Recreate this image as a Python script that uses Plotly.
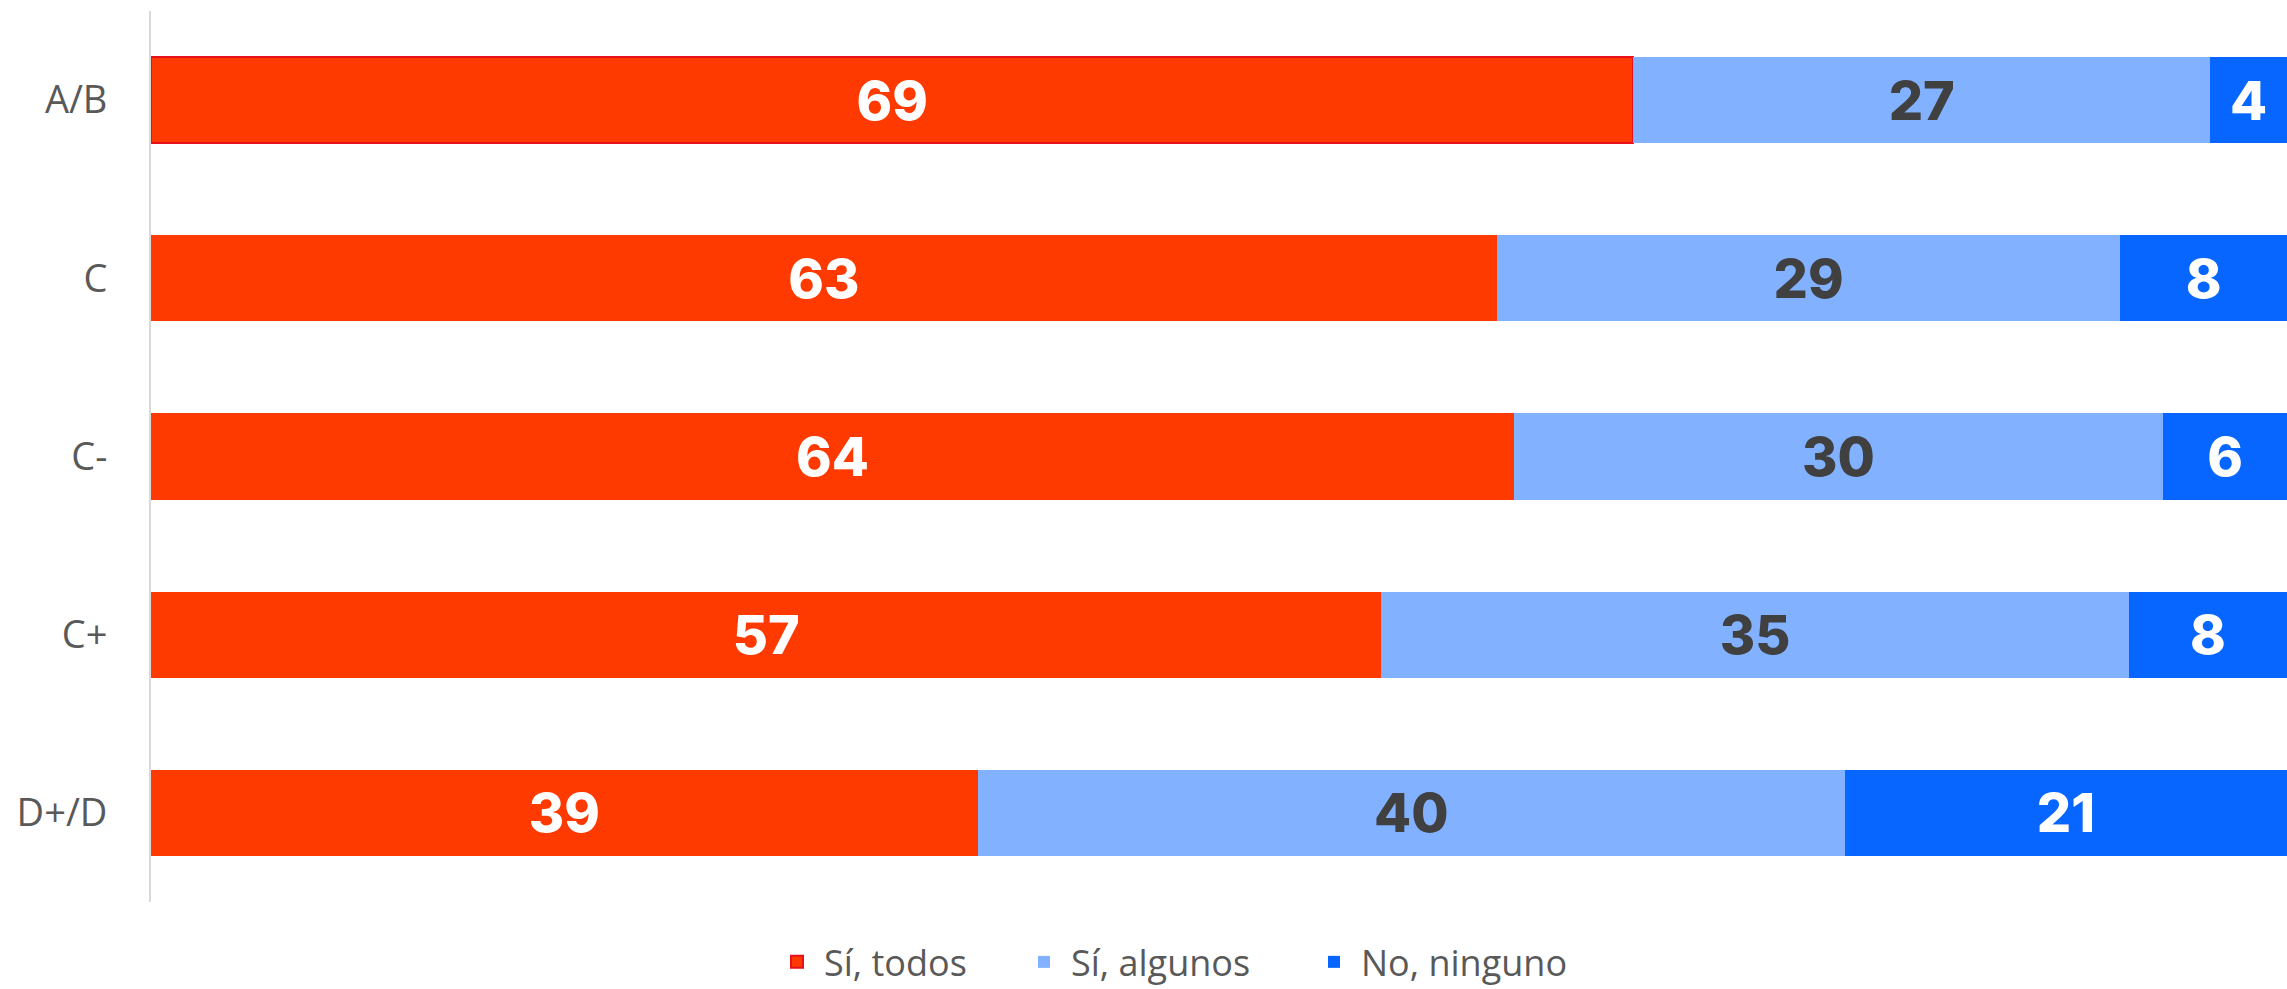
import plotly.graph_objects as go

categories = ["A/B", "C", "C-", "C+", "D+/D"]
series_names = ["Sí, todos", "Sí, algunos", "No, ninguno"]
todos = [69.4, 63.0, 63.8, 57.6, 38.7]
algunos = [27.0, 29.2, 30.4, 35.0, 40.6]
ninguno = [3.6, 7.8, 5.8, 7.4, 20.7]
todos_lbl = [69, 63, 64, 57, 39]
algunos_lbl = [27, 29, 30, 35, 40]
ninguno_lbl = [4, 8, 6, 8, 21]

colors = ["#FF3A00", "#82B1FF", "#0766FF"]
text_colors = ["#FFFFFF", "#404040", "#FFFFFF"]
legend_widths = [188, 231, 230]

fig = go.Figure()
series = [todos, algunos, ninguno]
labels = [todos_lbl, algunos_lbl, ninguno_lbl]
for i, (name, vals, lbls) in enumerate(zip(series_names, series, labels)):
    marker = dict(color=colors[i])
    if i == 0:
        marker["line"] = dict(color=["#E8101C"] + [colors[0]] * 4, width=[2, 0, 0, 0, 0])
    else:
        marker["line"] = dict(width=0)
    fig.add_trace(go.Bar(
        name=name, y=categories, x=vals, orientation="h",
        marker=marker,
        text=[str(v) for v in lbls],
        textposition="inside", insidetextanchor="middle", textangle=0,
        constraintext="none",
        textfont=dict(family="Inter", size=54, color=text_colors[i], weight=800),
        hoverinfo="skip",
        legendwidth=legend_widths[i],
    ))

fig.update_layout(
    barmode="stack",
    bargap=0.517,
    width=2287, height=989,
    margin=dict(l=151, r=0, t=11, b=87, autoexpand=False),
    plot_bgcolor="white", paper_bgcolor="white",
    xaxis=dict(range=[0, 100], showgrid=False, zeroline=False, showticklabels=False, showline=False, fixedrange=True),
    yaxis=dict(categoryorder="array", categoryarray=categories, autorange="reversed",
               showgrid=False, zeroline=False, showline=True, linecolor="#D9D9D9", linewidth=2,
               ticks="outside", ticklen=34, tickcolor="rgba(0,0,0,0)", fixedrange=True,
               tickfont=dict(family="Open Sans", size=38, color="#595959")),
    legend=dict(orientation="h", xref="paper", x=(770 - 151) / 2136, xanchor="left", y=-0.0673, yanchor="middle",
                font=dict(family="Open Sans", size=36, color="#595959"), itemwidth=44,
                traceorder="normal"),
    showlegend=True,
)

fig.write_html("out.html", post_script="document.body.style.margin='0';",
               config={"displayModeBar": False})
